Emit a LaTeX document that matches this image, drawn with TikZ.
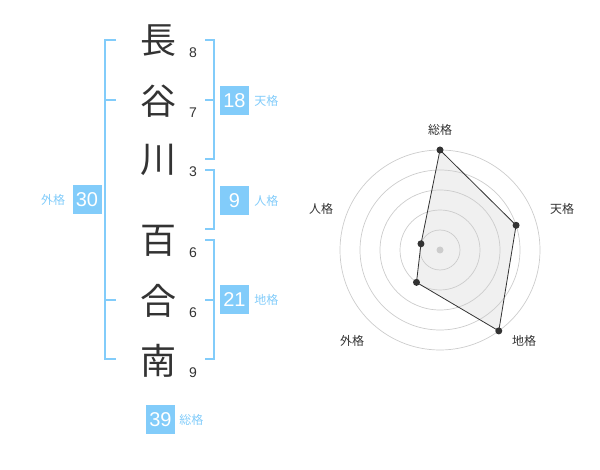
\documentclass[tikz,border=0pt]{standalone}
\usepackage{fontspec}
\setmainfont{Liberation Sans}
\newfontfamily\jp{Noto Sans CJK JP}
\usetikzlibrary{positioning}
\definecolor{kaku}{RGB}{130,204,250}
\definecolor{ink}{RGB}{51,51,51}
\definecolor{ring}{RGB}{204,204,204}
\definecolor{area}{RGB}{240,240,240}

\begin{document}
\begin{tikzpicture}[x=1pt,y=-1pt,node distance=4pt]
  \tikzstyle{kanji}=[font=\jp\fontsize{36}{36}\selectfont,text=ink,inner sep=0pt]
  \tikzstyle{strokes}=[font=\fontsize{14}{14}\selectfont,text=ink,inner sep=0pt]
  \tikzstyle{total}=[fill=kaku,text=white,minimum width=29pt,minimum height=29pt,
                     inner sep=0pt,font=\fontsize{20}{20}\selectfont]
  \tikzstyle{kaku label}=[text=kaku,inner sep=0pt,font=\jp\fontsize{12}{12}\selectfont]
  \tikzstyle{axis label}=[text=ink,inner sep=0pt,font=\jp\fontsize{12}{12}\selectfont]
  \tikzstyle{bracket}=[draw=kaku,line width=2pt]
  \useasboundingbox (0,0) rectangle (600,470);

  % name and stroke counts
  \foreach \k/\n/\y [count=\i] in {長/8/41,谷/7/101,川/3/160,百/6/241,合/6/301,南/9/361}
  {
    \node[kanji]   (k\i) at (158,\y)    {\k};
    \node[strokes] (s\i) at (193,\y+12) {\n};
  }

  % brackets
  \draw[bracket] (116,40) -- (105,40) -- (105,359) -- (116,359)
                 (105,100) -- (116,100) (105,300) -- (116,300);
  \draw[bracket] (205,40) -- (214,40) -- (214,159) -- (205,159)
                 (214,100) -- (205,100);
  \draw[bracket] (205,170) -- (214,170) -- (214,229) -- (205,229);
  \draw[bracket] (205,240) -- (214,240) -- (214,359) -- (205,359)
                 (214,300) -- (205,300);

  \node[total] (gai) at (87,200)    {30};
  \node[total] (ten) at (234.5,100.5) {18};
  \node[total] (jin) at (234.5,201) {9};
  \node[total] (chi) at (234.5,300) {21};
  \node[total] (so)  at (160.5,419.5) {39};

  \node[kaku label, left=7pt of gai]  {外格};
  \node[kaku label, right=5pt of ten] {天格};
  \node[kaku label, right=5pt of jin] {人格};
  \node[kaku label, right=5pt of chi] {地格};
  \node[kaku label, right=4pt of so]  {総格};

  % radar
  \coordinate (c) at (440,250);
  \foreach \a/\r/\p in {90/100/so,18/80/ten,-54/100/chi,-126/40/gai,162/20/jin}
    \path (c) ++(\a:\r pt) coordinate (p\p);
  \fill[area] (pso) -- (pten) -- (pchi) -- (pgai) -- (pjin) -- cycle;
  \foreach \r in {20,40,...,100}
    \draw[ring,line width=.7pt] (c) circle[radius=\r pt];
  \fill[ring] (c) circle[radius=3.5pt];
  \draw[ink,line width=.8pt] (pso) -- (pten) -- (pchi) -- (pgai) -- (pjin) -- cycle;
  \foreach \p in {so,ten,chi,gai,jin}
    \fill[ink] (p\p) circle[radius=3.5pt];

  \node[axis label] at (440,130)   {総格};
  \node[axis label] at (562,208.5) {天格};
  \node[axis label] at (524,341)   {地格};
  \node[axis label] at (352,341)   {外格};
  \node[axis label] at (321,208.5) {人格};
\end{tikzpicture}
\end{document}
